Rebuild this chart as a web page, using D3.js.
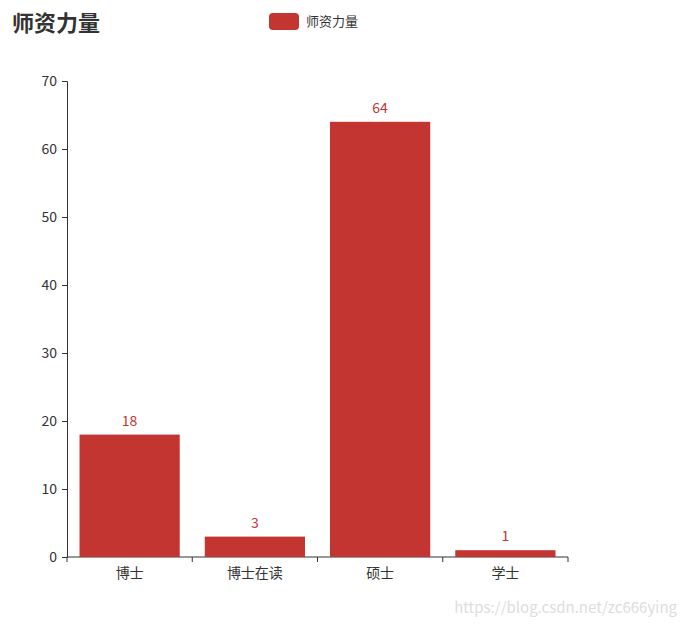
<!DOCTYPE html>
<html>
<head>
<meta charset="utf-8">
<script src="https://cdn.jsdelivr.net/npm/d3@7"></script>
<style>
  body { margin: 0; background: #fff; }
  text { font-family: "Microsoft YaHei", "Noto Sans CJK SC", sans-serif; }
</style>
</head>
<body>
<div id="chart"></div>
<script>
// chart data
var categories = ["博士", "博士在读", "硕士", "学士"];
var values = [18, 3, 64, 1];
var yTicks = [0, 10, 20, 30, 40, 50, 60, 70];
var seriesName = "师资力量";
var titleText = "师资力量";

var svgWidth = 685;
var svgHeight = 626;
var margin = { top: 81, right: 117, bottom: 69, left: 67 };
var width = svgWidth - margin.left - margin.right;
var height = svgHeight - margin.top - margin.bottom;
var barColor = "#c23531";

var svg = d3.select("#chart")
  .append("svg")
  .attr("width", svgWidth)
  .attr("height", svgHeight);

// title
svg.append("text")
  .attr("x", 12)
  .attr("y", 31)
  .style("font-size", "22px")
  .style("font-weight", "bold")
  .attr("fill", "#333")
  .text(titleText);

// legend
svg.append("rect")
  .attr("x", 269)
  .attr("y", 13)
  .attr("width", 30)
  .attr("height", 17)
  .attr("rx", 4)
  .attr("fill", barColor);
svg.append("text")
  .attr("x", 306)
  .attr("y", 26)
  .style("font-size", "13px")
  .attr("fill", "#333")
  .text(seriesName);

var chartGroup = svg.append("g")
  .attr("transform", `translate(${margin.left}, ${margin.top})`);

var xScale = d3.scaleBand()
  .domain(categories)
  .range([0, width])
  .paddingInner(0.2)
  .paddingOuter(0.1);

var yScale = d3.scaleLinear()
  .domain([0, 70])
  .range([height, 0]);

// axes
var leftAxis = d3.axisLeft(yScale).tickValues(yTicks).tickSize(5).tickPadding(5);
var yAxisG = chartGroup.append("g").call(leftAxis);
yAxisG.select(".domain").attr("stroke", "#333");
yAxisG.selectAll(".tick line").attr("stroke", "#333");
yAxisG.selectAll(".tick text")
  .attr("fill", "#333")
  .style("font-size", "14px")
  .style("font-family", "'Microsoft YaHei', 'Noto Sans CJK SC', sans-serif");

// category axis with ticks at band boundaries
var boundaries = d3.range(categories.length + 1).map(i => i * width / categories.length);
var xAxisG = chartGroup.append("g")
  .attr("transform", `translate(0, ${height})`);
xAxisG.append("line")
  .attr("x1", 0).attr("x2", width)
  .attr("y1", 0).attr("y2", 0)
  .attr("stroke", "#333");
xAxisG.selectAll(".btick")
  .data(boundaries)
  .enter()
  .append("line")
  .attr("x1", d => d).attr("x2", d => d)
  .attr("y1", 0).attr("y2", 5)
  .attr("stroke", "#333");
xAxisG.selectAll(".clabel")
  .data(categories)
  .enter()
  .append("text")
  .attr("x", d => xScale(d) + xScale.bandwidth() / 2)
  .attr("y", 21)
  .attr("text-anchor", "middle")
  .style("font-size", "14px")
  .attr("fill", "#333")
  .text(d => d);

// bars
var data = categories.map((c, i) => ({ cat: c, value: values[i] }));
chartGroup.selectAll(".bar")
  .data(data)
  .enter()
  .append("rect")
  .attr("x", d => xScale(d.cat))
  .attr("y", d => yScale(d.value))
  .attr("width", xScale.bandwidth())
  .attr("height", d => height - yScale(d.value))
  .attr("fill", barColor);

// value labels
chartGroup.selectAll(".vlabel")
  .data(data)
  .enter()
  .append("text")
  .attr("x", d => xScale(d.cat) + xScale.bandwidth() / 2)
  .attr("y", d => yScale(d.value) - 9)
  .attr("text-anchor", "middle")
  .style("font-size", "14px")
  .attr("fill", barColor)
  .text(d => d.value);

// watermark
svg.append("text")
  .attr("x", 677)
  .attr("y", 613)
  .attr("text-anchor", "end")
  .style("font-size", "15px")
  .attr("fill", "#ddd")
  .text("https://blog.csdn.net/zc666ying");
</script>
</body>
</html>
